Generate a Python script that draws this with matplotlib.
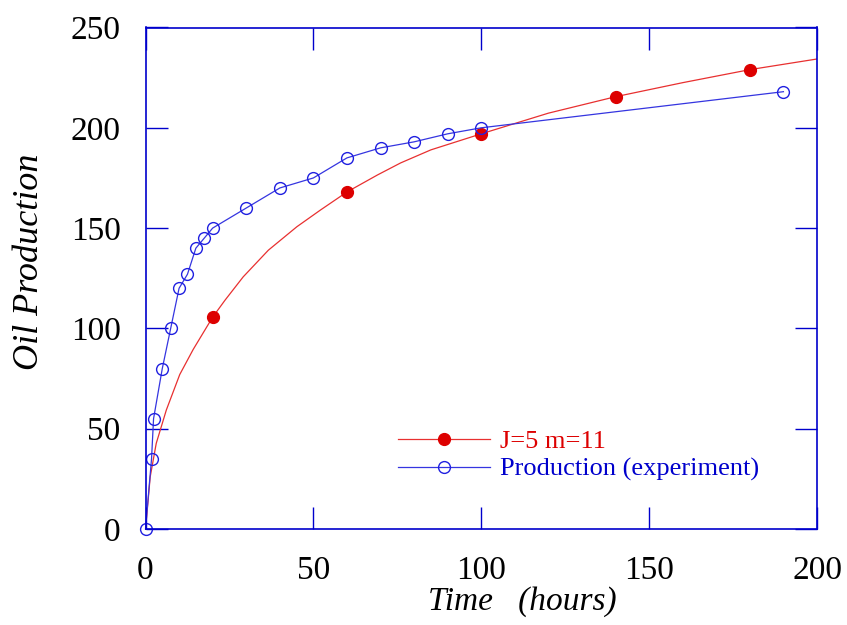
import matplotlib
matplotlib.use("Agg")
import matplotlib.pyplot as plt

# Experimental production
exp_time = [0, 1.8, 2.4, 5, 7.5, 10, 12.5, 15, 17.5, 20, 30, 40, 50, 60, 70, 80, 90, 100, 190]
exp_prod = [0, 35, 55, 80, 100, 120, 127, 140, 145, 150, 160, 170, 175, 185, 190, 193, 197, 200, 218]

# Model curve (J=5 m=11)
model_time = [0, 0.7, 1.4, 3.2, 6.2, 10.2, 14.2, 20, 23.7, 29.1, 36.6, 45.1, 52.1, 60, 69.1, 76,
              85, 100, 120, 140, 160, 180, 200]
model_prod = [0, 12.8, 26, 42.7, 59.3, 77, 89.5, 105.6, 114.1, 125.7, 139, 150.7, 159, 168, 176.5,
              182.5, 189, 197, 207.3, 215.5, 222.5, 229, 234.3]
model_marker_times = [20, 60, 100, 140, 180]

plt.rcParams['font.family'] = ['Liberation Serif', 'DejaVu Serif']

fig = plt.figure(figsize=(8.47, 6.25), dpi=100)
ax = fig.add_axes([145.5/847, 1-529/625, (817-145.5)/847, (529-27.5)/625])

marker_idx = [model_time.index(t) for t in model_marker_times]
ax.plot(model_time, model_prod, color='#e83030', lw=0.9, marker='o', markevery=marker_idx,
        markersize=8.5, markerfacecolor='#dd0000', markeredgecolor='#dd0000',
        label='J=5 m=11')
ax.plot(exp_time, exp_prod, color='#3535e0', lw=0.9, marker='o', markersize=8.5,
        markerfacecolor='none', markeredgecolor='#2020e0', markeredgewidth=1.0,
        label='Production (experiment)', clip_on=False)

ax.set_xlim(0, 200)
ax.set_ylim(0, 250)
ax.set_xticks([0, 50, 100, 150, 200])
ax.set_yticks([0, 50, 100, 150, 200, 250])

for s in ax.spines.values():
    s.set_color('#0000cc')
    s.set_linewidth(1.2)
ax.tick_params(direction='in', length=16, width=1.0, color='#0000cc',
               top=True, right=True, labelsize=24, labelcolor='black')
ax.tick_params(axis='y', pad=18)
ax.tick_params(axis='x', pad=19)

fig.text(522/847, 1-602/625, 'Time   (hours)', style='italic', fontsize=24,
         ha='center', va='center')
fig.text(29/847, 1-262/625, 'Oil Production', style='italic', fontsize=26,
         ha='center', va='center', rotation=90)

leg = ax.legend(loc='upper left', bbox_to_anchor=(398/847, 1-430/625),
                bbox_transform=fig.transFigure, frameon=False, fontsize=19,
                handlelength=3.5, handletextpad=0.38, labelspacing=0.15,
                borderaxespad=0, borderpad=0)
leg.get_texts()[0].set_color('#dd0000')
leg.get_texts()[1].set_color('#0000cc')

fig.savefig('out.png', dpi=100)
